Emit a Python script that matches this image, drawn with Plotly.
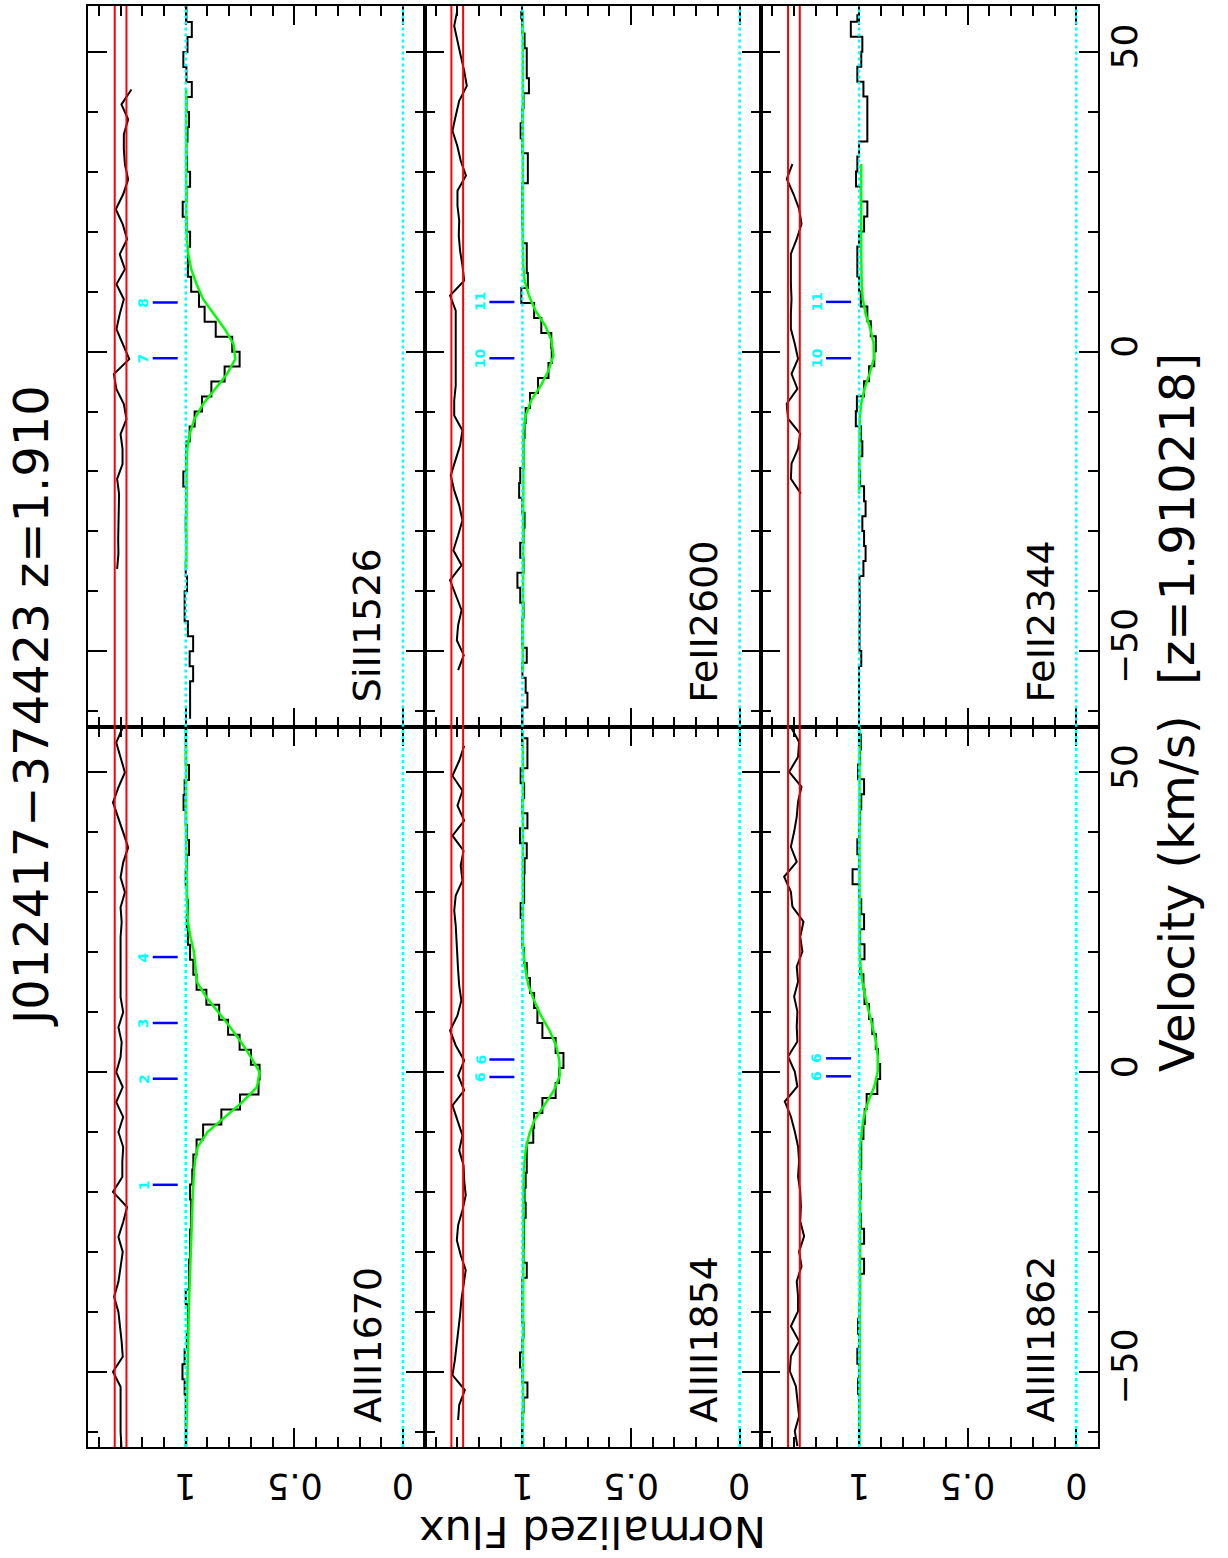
import plotly.graph_objects as go

# ---------------- data ----------------
STEP = 2.5                     # km/s per pixel
FLUX_RANGE = [1.45, -0.10]     # reversed: flux grows to the left
VEL_RANGE = [-62.55, 57.67]
RES_BAND = [1.273, 1.327]      # red residual band
GUIDE_LEVELS = [1.0, 0.0]      # cyan dotted levels
TICK_FLUX = [1.037, 1.152]     # component marker extent
LABEL_FLUX = 1.195             # component number position
FLUX_TICKS = [1.0, 0.5, 0.0]
FLUX_TICK_TEXT = ["1", "0.5", "0"]

# SiII 1526
SI1526_V0 = -61.25
SI1526_FLUX = [0.98, 0.98, 0.98, 0.966, 0.982, 0.966, 0.99, 1.005, 1.005, 0.994,
               1.0, 0.998, 0.998, 1.0, 0.998, 0.998, 1.011, 0.998, 0.997, 0.982,
               0.959, 0.925, 0.882, 0.821, 0.752, 0.786, 0.862, 0.913, 0.939, 0.975,
               0.99, 0.99, 0.98, 0.997, 1.014, 0.997, 0.98, 0.994, 0.997, 0.992,
               0.985, 0.997, 0.972, 0.997, 1.011, 0.992, 0.972, 0.997, 1.0]
SI1526_MODEL_V0 = -36.25
SI1526_MODEL = [0.998, 0.998, 0.998, 0.998, 0.998, 0.998, 0.997, 0.996, 0.993, 0.982,
                0.96, 0.92, 0.865, 0.81, 0.772, 0.78, 0.82, 0.87, 0.92, 0.95,
                0.975, 0.988, 0.995, 0.997, 0.998, 0.998, 0.998, 0.998, 0.998, 0.998,
                0.998, 0.998, 0.998]
SI1526_RESID_V0 = -36.25
SI1526_RESID = [1.316, 1.31, 1.311, 1.309, 1.307, 1.307, 1.316, 1.291, 1.291, 1.30,
                1.273, 1.285, 1.319, 1.331, 1.26, 1.288, 1.319, 1.304, 1.285, 1.319,
                1.28, 1.304, 1.27, 1.29, 1.322, 1.288, 1.265, 1.28, 1.285, 1.285,
                1.265, 1.296, 1.25]
SI1526_COMPS = [-1.1, 8.2]
SI1526_COMP_LABELS = ["7", "8"]

# FeII 2600
FE2600_V0 = -63.15
FE2600_FLUX = [1.0, 1.0, 0.977, 0.985, 1.0, 0.98, 1.0, 1.0, 0.995, 1.01,
               1.023, 0.995, 1.01, 0.995, 0.99, 1.0, 1.015, 1.01, 0.995, 0.995,
               0.99, 0.985, 0.965, 0.928, 0.88, 0.865, 0.867, 0.913, 0.946, 1.005,
               0.975, 0.98, 0.98, 0.998, 1.0, 1.0, 1.0, 0.975, 0.975, 1.0,
               1.008, 1.0, 0.995, 0.97, 0.98, 0.98, 0.99, 1.0, 1.005]
FE2600_MODEL_V0 = -53.15
FE2600_MODEL = [0.998] * 16 + [0.995, 0.985, 0.96, 0.915, 0.88, 0.857, 0.866, 0.895,
                               0.94, 0.97, 0.99, 0.996] + [0.998] * 17
FE2600_RESID_V0 = -53.15
FE2600_RESID = [1.296, 1.27, 1.302, 1.296, 1.28, 1.307, 1.333, 1.28, 1.318, 1.296,
                1.276, 1.291, 1.314, 1.33, 1.307, 1.287, 1.276, 1.314, 1.314, 1.307,
                1.307, 1.307, 1.307, 1.307, 1.307, 1.333, 1.268, 1.276, 1.287, 1.293,
                1.291, 1.299, 1.299, 1.26, 1.284, 1.30, 1.322, 1.307, 1.291, 1.256,
                1.268, 1.284, 1.30, 1.314, 1.30]
FE2600_COMPS = [-1.1, 8.3]
FE2600_COMP_LABELS = ["10", "11"]

# FeII 2344
FE2344_V0 = -61.2
FE2344_FLUX = [1.0, 1.0, 1.0, 1.0, 0.99, 0.998, 0.998, 0.997, 0.997, 0.998,
               0.98, 0.97, 0.977, 0.985, 0.97, 0.977, 0.995, 1.0, 0.985, 0.992,
               1.015, 1.01, 0.977, 0.954, 0.93, 0.923, 0.946, 0.962, 0.992, 1.0,
               1.008, 1.008, 1.0, 0.977, 0.962, 0.992, 1.014, 1.008, 1.0, 0.962,
               0.962, 0.962, 0.98, 1.008, 0.99, 0.985, 1.038, 1.008]
FE2344_MODEL_V0 = -23.7
FE2344_MODEL = [1.0, 1.0, 1.0, 1.0, 0.999, 0.997, 0.99, 0.975, 0.952, 0.932,
                0.933, 0.948, 0.97, 0.983, 0.988, 0.99, 0.99, 0.99, 0.99, 0.99,
                0.99, 0.99, 0.99]
FE2344_RESID_V0 = -23.7
FE2344_RESID = [1.268, 1.314, 1.311, 1.281, 1.271, 1.327, 1.333, 1.284, 1.311, 1.281,
                1.296, 1.314, 1.314, 1.311, 1.314, 1.314, 1.314, 1.287, 1.265, 1.276,
                1.302, 1.333, 1.307]
FE2344_COMPS = [-1.1, 8.3]
FE2344_COMP_LABELS = ["10", "11"]

# AlII 1670
AL1670_V0 = -62.5
AL1670_FLUX = [1.0, 1.0, 1.0, 1.0, 1.005, 1.015, 1.005, 0.995, 0.99, 0.99,
               1.0, 0.985, 0.985, 0.98, 0.98, 0.975, 0.975, 0.98, 0.97, 0.965,
               0.95, 0.92, 0.836, 0.75, 0.665, 0.66, 0.70, 0.752, 0.805, 0.846,
               0.905, 0.95, 0.965, 0.98, 0.99, 0.995, 0.99, 0.995, 1.0, 0.995,
               0.985, 0.995, 1.0, 1.01, 1.005, 0.985, 1.0, 1.0, 1.0]
AL1670_MODEL_V0 = -62.5
AL1670_MODEL = [0.998, 0.997, 0.996, 0.995, 0.994, 0.993, 0.992, 0.99, 0.988, 0.986,
                0.984, 0.982, 0.98, 0.978, 0.976, 0.973, 0.97, 0.967, 0.963, 0.958,
                0.945, 0.90, 0.82, 0.74, 0.672, 0.66, 0.70, 0.745, 0.795, 0.85,
                0.905, 0.948, 0.955, 0.962, 0.978, 0.99, 0.993, 0.995, 0.996, 0.997,
                0.998, 0.998, 0.998, 0.998, 0.998, 0.998, 0.998, 0.998, 0.998]
AL1670_RESID_V0 = -62.5
AL1670_RESID = [1.296, 1.30, 1.30, 1.30, 1.30, 1.335, 1.29, 1.295, 1.302, 1.31,
                1.33, 1.31, 1.30, 1.29, 1.31, 1.288, 1.27, 1.335, 1.292, 1.292,
                1.288, 1.31, 1.288, 1.32, 1.29, 1.32, 1.30, 1.295, 1.31, 1.288,
                1.30, 1.30, 1.30, 1.30, 1.30, 1.295, 1.30, 1.28, 1.30, 1.288,
                1.265, 1.288, 1.31, 1.335, 1.31, 1.28, 1.30, 1.32, 1.29]
AL1670_COMPS = [-18.8, -1.1, 8.2, 19.2]
AL1670_COMP_LABELS = ["1", "2", "3", "4"]

# AlIII 1854
AL1854_V0 = -63.05
AL1854_FLUX = [1.0, 1.0, 1.0, 0.995, 0.977, 1.0, 1.011, 1.0, 0.995, 1.0,
               1.0, 1.0, 0.98, 0.995, 0.992, 0.992, 0.985, 0.99, 0.985, 0.98,
               0.98, 0.95, 0.946, 0.908, 0.847, 0.831, 0.811, 0.847, 0.908, 0.931,
               0.946, 0.965, 0.98, 0.992, 1.0, 1.0, 1.008, 0.992, 0.992, 0.99,
               0.98, 1.011, 0.977, 1.0, 0.992, 1.008, 0.977, 0.977, 1.0]
AL1854_MODEL_V0 = -63.05
AL1854_MODEL = [0.998] * 18 + [0.995, 0.992, 0.985, 0.97, 0.945, 0.9, 0.855, 0.828,
                               0.83, 0.845, 0.875, 0.915, 0.946, 0.972, 0.985, 0.994] + [0.998] * 15
AL1854_RESID_V0 = -58.05
AL1854_RESID = [1.296, 1.291, 1.265, 1.322, 1.311, 1.302, 1.296, 1.287, 1.281, 1.271,
                1.261, 1.284, 1.302, 1.296, 1.276, 1.261, 1.268, 1.271, 1.291, 1.276,
                1.299, 1.322, 1.268, 1.296, 1.268, 1.307, 1.333, 1.299, 1.281, 1.291,
                1.296, 1.299, 1.302, 1.307, 1.314, 1.307, 1.276, 1.284, 1.271, 1.322,
                1.268, 1.299, 1.276, 1.322, 1.291, 1.268]
AL1854_COMPS = [2.1, -0.8]
AL1854_COMP_LABELS = ["6", "6"]

# AlIII 1862
AL1862_V0 = -62.4
AL1862_FLUX = [1.0, 1.0, 1.0, 1.0, 1.005, 1.0, 1.008, 1.0, 1.005, 0.998,
               0.995, 0.995, 0.977, 0.995, 0.977, 0.992, 0.995, 0.992, 0.995, 0.99,
               0.99, 0.98, 0.974, 0.965, 0.916, 0.903, 0.913, 0.923, 0.939, 0.954,
               0.975, 0.98, 0.995, 0.975, 0.995, 0.977, 0.99, 1.0, 1.03, 1.0,
               1.008, 1.0, 0.995, 0.99, 0.977, 1.005, 0.995, 0.992, 1.0]
AL1862_MODEL_V0 = -62.4
AL1862_MODEL = [0.998] * 20 + [0.995, 0.988, 0.978, 0.958, 0.93, 0.914, 0.914, 0.922,
                               0.937, 0.955, 0.972, 0.985, 0.993] + [0.998] * 16
AL1862_RESID_V0 = -62.4
AL1862_RESID = [1.284, 1.296, 1.276, 1.284, 1.291, 1.319, 1.314, 1.276, 1.314, 1.281,
                1.281, 1.287, 1.265, 1.276, 1.253, 1.271, 1.268, 1.271, 1.281, 1.276,
                1.281, 1.296, 1.314, 1.342, 1.284, 1.296, 1.327, 1.284, 1.287, 1.284,
                1.299, 1.281, 1.287, 1.261, 1.271, 1.256, 1.307, 1.314, 1.345, 1.287,
                1.314, 1.299, 1.287, 1.281, 1.265, 1.322, 1.281, 1.276, 1.314]
AL1862_COMPS = [2.3, -0.7]
AL1862_COMP_LABELS = ["6", "6"]

TITLE = "J012417\u2212374423 z=1.910"
XLABEL = "Velocity (km/s)  [z=1.910218]"
YLABEL = "Normalized Flux"

# panel: (label, column, row(0=upper), data...)
PANELS = [
    ("SiII1526", 0, 0, SI1526_V0, SI1526_FLUX, SI1526_MODEL_V0, SI1526_MODEL,
     SI1526_RESID_V0, SI1526_RESID, SI1526_COMPS, SI1526_COMP_LABELS),
    ("FeII2600", 1, 0, FE2600_V0, FE2600_FLUX, FE2600_MODEL_V0, FE2600_MODEL,
     FE2600_RESID_V0, FE2600_RESID, FE2600_COMPS, FE2600_COMP_LABELS),
    ("FeII2344", 2, 0, FE2344_V0, FE2344_FLUX, FE2344_MODEL_V0, FE2344_MODEL,
     FE2344_RESID_V0, FE2344_RESID, FE2344_COMPS, FE2344_COMP_LABELS),
    ("AlII1670", 0, 1, AL1670_V0, AL1670_FLUX, AL1670_MODEL_V0, AL1670_MODEL,
     AL1670_RESID_V0, AL1670_RESID, AL1670_COMPS, AL1670_COMP_LABELS),
    ("AlIII1854", 1, 1, AL1854_V0, AL1854_FLUX, AL1854_MODEL_V0, AL1854_MODEL,
     AL1854_RESID_V0, AL1854_RESID, AL1854_COMPS, AL1854_COMP_LABELS),
    ("AlIII1862", 2, 1, AL1862_V0, AL1862_FLUX, AL1862_MODEL_V0, AL1862_MODEL,
     AL1862_RESID_V0, AL1862_RESID, AL1862_COMPS, AL1862_COMP_LABELS),
]

# ---------------- figure ----------------
FONT = "DejaVu Sans"
W, H = 1228, 1558
ML, MR, MT, MB = 88, 130, 4, 111
PW = W - ML - MR
PH = H - MT - MB


def px_x(px):
    return (px - ML) / PW


def px_y(py):
    return (H - MB - py) / PH


fig = go.Figure()
layout = dict(
    width=W, height=H,
    margin=dict(l=ML, r=MR, t=MT, b=MB, pad=0),
    paper_bgcolor="white", plot_bgcolor="white",
    showlegend=False,
    font=dict(family=FONT, color="black"),
)
shapes = []
annotations = []


def vgrid(v0, n):
    return [v0 + STEP * i for i in range(n)]


for n, (name, col, row, v0, flux, mv0, model, rv0, resid, comps, clabels) in enumerate(PANELS, start=1):
    xa = "x" if n == 1 else f"x{n}"
    ya = "y" if n == 1 else f"y{n}"
    xkey = "xaxis" if n == 1 else f"xaxis{n}"
    ykey = "yaxis" if n == 1 else f"yaxis{n}"

    # spectrum (histogram)
    fig.add_trace(go.Scatter(x=flux, y=vgrid(v0, len(flux)), mode="lines",
                             line=dict(color="black", width=2, shape="vhv"),
                             xaxis=xa, yaxis=ya, hoverinfo="skip"))
    # residuals
    fig.add_trace(go.Scatter(x=resid, y=vgrid(rv0, len(resid)), mode="lines",
                             line=dict(color="black", width=2),
                             xaxis=xa, yaxis=ya, hoverinfo="skip"))
    # model
    fig.add_trace(go.Scatter(x=model, y=vgrid(mv0, len(model)), mode="lines",
                             line=dict(color="#00ff00", width=2.5),
                             xaxis=xa, yaxis=ya, hoverinfo="skip"))
    # component markers
    mx, my = [], []
    for c in comps:
        mx += [TICK_FLUX[0], TICK_FLUX[1], None]
        my += [c, c, None]
    fig.add_trace(go.Scatter(x=mx, y=my, mode="lines",
                             line=dict(color="#0000ff", width=2.5),
                             xaxis=xa, yaxis=ya, hoverinfo="skip"))
    for c, lab in zip(comps, clabels):
        annotations.append(dict(x=LABEL_FLUX, y=c, xref=xa, yref=ya, text=lab,
                                showarrow=False, textangle=-90,
                                font=dict(size=14, color="#00ffff", family=FONT, weight="bold"),
                                xanchor="center", yanchor="middle"))

    # residual band and guide lines
    for lv in RES_BAND:
        shapes.append(dict(type="line", xref=xa, yref=f"{ya} domain", x0=lv, x1=lv, y0=0, y1=1,
                           line=dict(color="#ff0000", width=2)))
    for lv in GUIDE_LEVELS:
        shapes.append(dict(type="line", xref=xa, yref=f"{ya} domain", x0=lv, x1=lv, y0=0, y1=1,
                           line=dict(color="#00ffff", width=2.5, dash="dot")))

    # panel label
    annotations.append(dict(x=0.162, y=-58.7, xref=xa, yref=ya, text=name,
                            showarrow=False, textangle=-90, borderpad=0,
                            font=dict(size=38, color="black", family=FONT),
                            xanchor="center", yanchor="bottom"))

    # flux tick labels (upside-down, under the lower row)
    if row == 1:
        for tv, tt in zip(FLUX_TICKS, FLUX_TICK_TEXT):
            annotations.append(dict(x=tv, y=px_y(1486), xref=xa, yref="paper", text=tt,
                                    showarrow=False, textangle=180, borderpad=0,
                                    font=dict(size=35, color="black", family=FONT),
                                    xanchor="center", yanchor="middle"))

    xd = [col / 3, (col + 1) / 3]
    yd = [0.5, 1.0] if row == 0 else [0.0, 0.5]
    layout[xkey] = dict(
        domain=xd, anchor=ya, range=FLUX_RANGE, autorange=False,
        tickmode="array", tickvals=FLUX_TICKS,
        ticks="inside", ticklen=19, tickwidth=2, tickcolor="black",
        minor=dict(tick0=0, dtick=0.1, ticks="inside", ticklen=10, tickwidth=2, tickcolor="black"),
        showline=True, linewidth=2, linecolor="black", mirror="ticks",
        showgrid=False, zeroline=False, showticklabels=False,
    )
    layout[ykey] = dict(
        domain=yd, anchor=xa, range=VEL_RANGE, autorange=False,
        tick0=0, dtick=50, ticks="inside", ticklen=19, tickwidth=2, tickcolor="black",
        minor=dict(tick0=0, dtick=10, ticks="inside", ticklen=10, tickwidth=2, tickcolor="black"),
        showline=True, linewidth=2, linecolor="black", mirror="ticks",
        showgrid=False, zeroline=False,
        showticklabels=(col == 2), side="right" if col == 2 else "left", tickangle=-90,
        tickfont=dict(size=36, family=FONT, color="black"),
        ticklabelstandoff=-6,
    )

annotations.append(dict(x=px_x(31), y=px_y(705), xref="paper", yref="paper", text=TITLE,
                        showarrow=False, textangle=-90, borderpad=0,
                        font=dict(size=48, family=FONT, color="black"),
                        xanchor="center", yanchor="middle"))
annotations.append(dict(x=px_x(1177), y=px_y(712), xref="paper", yref="paper", text=XLABEL,
                        showarrow=False, textangle=-90, borderpad=0,
                        font=dict(size=48, family=FONT, color="black"),
                        xanchor="center", yanchor="middle"))
annotations.append(dict(x=0.5, y=px_y(1532), xref="paper", yref="paper", text=YLABEL,
                        showarrow=False, textangle=180, borderpad=0,
                        font=dict(size=43, family=FONT, color="black"),
                        xanchor="center", yanchor="middle"))

layout["shapes"] = shapes
layout["annotations"] = annotations
fig.update_layout(**layout)
fig.write_html("out.html")
